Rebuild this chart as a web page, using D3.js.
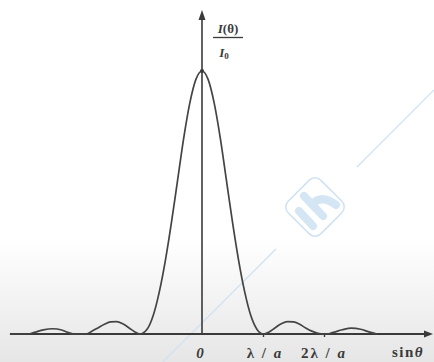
<!DOCTYPE html>
<html><head><meta charset="utf-8">
<script src="https://cdn.jsdelivr.net/npm/d3@7/dist/d3.min.js"></script>
<style>html,body{margin:0;padding:0;background:#fff;}svg{display:block;}</style>
</head><body>
<svg id="chart" width="434" height="362"></svg>
<script>
// position along the sinθ axis, in units of λ/a
const uValues = [-3.15,-2.85,-2.75,-2.6,-2.45,-2.3,-2.2,-2.1,-1.9,-1.8,-1.7,-1.6,-1.5,-1.4,-1.3,-1.2,-1.1,-1.02,
  -0.9,-0.8,-0.7,-0.6,-0.5,-0.4,-0.3,-0.2,-0.1,0,0.1,0.2,0.3,0.4,0.5,0.6,0.7,0.8,0.9,1.0,
  1.1,1.2,1.3,1.4,1.5,1.6,1.7,1.8,1.9,2.0,2.05,2.15,2.3,2.45,2.6,2.75,2.87];
// relative intensity I(θ)/I0
const intensity = [0,0,0.006,0.016,0.02,0.015,0.006,0,0,0.011,0.024,0.037,0.046,0.047,0.039,0.024,0.008,0,
  0.018,0.07,0.16,0.28,0.425,0.585,0.745,0.878,0.968,1,0.968,0.878,0.745,0.585,0.425,0.28,0.16,0.07,0.018,0,
  0.008,0.024,0.039,0.047,0.046,0.037,0.023,0.011,0.003,0,0,0.006,0.016,0.022,0.018,0.007,0];
const tickValues = [0, 1, 2];
const tickLabels = [["0"], ["λ / ", "a"], ["2λ / ", "a"]];

const svg = d3.select("#chart");
const W = 434, H = 362;

// background gradient
const defs = svg.append("defs");
const g = defs.append("linearGradient").attr("id","bg").attr("x1",0).attr("y1",0).attr("x2",0).attr("y2",1);
g.append("stop").attr("offset","0%").attr("stop-color","#ffffff");
g.append("stop").attr("offset","66%").attr("stop-color","#ffffff");
g.append("stop").attr("offset","100%").attr("stop-color","#e6e6e6");
svg.append("rect").attr("width",W).attr("height",H).attr("fill","url(#bg)");

// watermark
const wm = svg.append("g").attr("stroke","#cfe2f2").attr("fill","none");
wm.append("line").attr("x1",434).attr("y1",90).attr("x2",357).attr("y2",167).attr("stroke-width",1.2);
wm.append("line").attr("x1",276).attr("y1",249).attr("x2",163).attr("y2",362).attr("stroke-width",1.2);
wm.append("rect").attr("x",-23).attr("y",-23).attr("width",46).attr("height",46).attr("rx",8)
  .attr("transform","translate(315,207) rotate(45)").attr("stroke-width",1.5);
const wm2 = svg.append("g").attr("stroke","#d4e6f4").attr("stroke-linecap","round").attr("stroke-width",8);
wm2.append("line").attr("x1",299).attr("y1",211).attr("x2",313).attr("y2",226);
wm2.append("line").attr("x1",304).attr("y1",196).attr("x2",323).attr("y2",216);
wm2.append("path").attr("d","M312,204 Q322,194 336,205").attr("fill","none");

const x = d3.scaleLinear().domain([0, 1]).range([202, 263]);
const y = d3.scaleLinear().domain([0, 1]).range([334, 71]);

const ink = "#3a3a3a";

// x axis ticks via d3 axis
const xAxis = d3.axisBottom(x).tickValues(tickValues.slice(1)).tickSize(3).tickFormat(() => "");
const ax = svg.append("g").attr("transform", `translate(0,${y(0)})`).call(xAxis);
ax.select(".domain").remove();
ax.selectAll(".tick line").attr("stroke", ink).attr("stroke-width", 1.4);

// axes lines with arrows
svg.append("line").attr("x1",10).attr("y1",y(0)).attr("x2",426).attr("y2",y(0))
  .attr("stroke",ink).attr("stroke-width",1.8);
svg.append("path").attr("d",`M433,${y(0)} L424,${y(0)-3.5} L424,${y(0)+3.5} Z`).attr("fill",ink);
svg.append("line").attr("x1",x(0)).attr("y1",y(0)).attr("x2",x(0)).attr("y2",18)
  .attr("stroke",ink).attr("stroke-width",1.6);
svg.append("path").attr("d",`M${x(0)},10 L${x(0)-3.5},20 L${x(0)+3.5},20 Z`).attr("fill",ink);

// curve
const pts = uValues.map((u, i) => [u, intensity[i]]);
const line = d3.line().x(d => x(d[0])).y(d => y(d[1])).curve(d3.curveMonotoneX);
svg.append("path").datum(pts).attr("d", line).attr("fill","none")
  .attr("stroke", "#444").attr("stroke-width", 1.7);
svg.append("circle").attr("cx",x(0)).attr("cy",y(1)).attr("r",2).attr("fill",ink);

// tick labels
const font = "'Liberation Serif', 'DejaVu Serif', serif";
const offs = [-2, 2, 0];
tickValues.forEach((v, i) => {
  const t = svg.append("text").attr("x", x(v) + offs[i]).attr("y", 358)
    .attr("text-anchor","middle").attr("font-family", font).attr("font-size", 15)
    .attr("font-weight","bold").attr("fill", "#3a3a3a").attr("letter-spacing", i === 0 ? 0 : 2);
  if (i === 0) t.append("tspan").attr("font-style","italic").text(tickLabels[i][0]);
  else {
    t.append("tspan").text(tickLabels[i][0]);
    t.append("tspan").attr("font-style","italic").text(tickLabels[i][1]);
  }
});
const st = svg.append("text").attr("x", 408).attr("y", 357).attr("text-anchor","middle")
  .attr("font-family", font).attr("font-size", 15).attr("font-weight","bold")
  .attr("letter-spacing", 1.5).attr("fill","#3a3a3a");
st.append("tspan").text("sin");
st.append("tspan").attr("font-style","italic").text("θ");

// y label fraction
const yl = svg.append("g").attr("font-family", font).attr("fill","#3a3a3a").attr("font-size", 13).attr("font-weight","bold");
const num = yl.append("text").attr("x", 228).attr("y", 33).attr("text-anchor","middle");
num.append("tspan").attr("font-style","italic").text("I");
num.append("tspan").text("(θ)");
yl.append("line").attr("x1",213).attr("x2",243).attr("y1",37.5).attr("y2",37.5).attr("stroke","#3a3a3a").attr("stroke-width",1.3);
const den = yl.append("text").attr("x", 224).attr("y", 57).attr("text-anchor","middle");
den.append("tspan").attr("font-style","italic").text("I");
den.append("tspan").attr("font-size", 9).attr("dy", 2).text("0");
</script>
</body></html>
